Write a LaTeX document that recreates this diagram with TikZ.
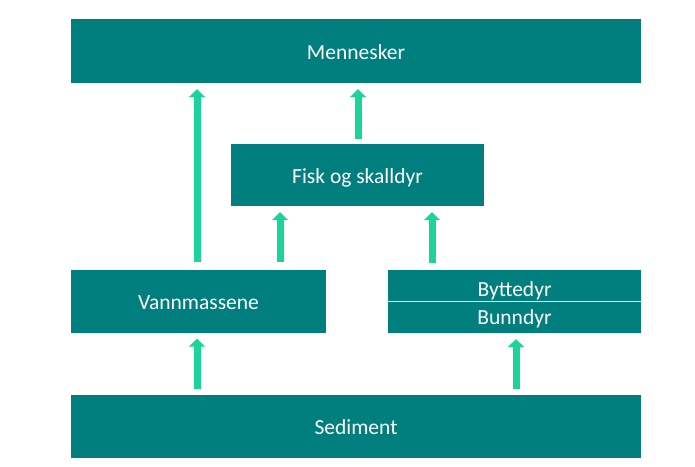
\documentclass[tikz,border=0pt]{standalone}
\usepackage{fontspec}
\setmainfont{Carlito}
\usetikzlibrary{positioning}
\usetikzlibrary{arrows.meta}
\definecolor{pTeal}{HTML}{007F7E}
\definecolor{pMint}{HTML}{1BD49C}

\tikzset{
  level/.style={fill=pTeal, text=white, inner sep=0pt, minimum height=63pt,
    text height=16.5pt, text depth=0pt, font=\fontsize{21.5}{24}\selectfont},
  flow/.style={draw=pMint, line width=7pt, -{Triangle[width=16pt,length=8pt]}}
}

\begin{document}
\begin{tikzpicture}[x=1pt, y=-1pt]
    \useasboundingbox (0,0) rectangle (695,466);

    \node[level, minimum width=570pt, minimum height=64pt] (menn) at (356,51) {Mennesker};
    \node[level, minimum width=253pt, minimum height=62pt] (fisk) at (357.5,175) {Fisk og skalldyr};
    \node[level, minimum width=255pt] (vann) at (198.5,301) {Vannmassene};
    \node[level, minimum width=253pt, minimum height=30.5pt] (bytte) at (514.5,285.25) {\raisebox{-2.5pt}{Byttedyr}};
    \node[level, minimum width=253pt, minimum height=30.5pt, below=1.5pt of bytte] (bunn) {\raisebox{1.75pt}{Bunndyr}};
    \node[level, minimum width=570pt] (sed) at (356,426.5) {Sediment};

    \draw[flow] ([xshift=-1.5pt,yshift=7pt]vann.north) -- ([xshift=-159pt,yshift=-6pt]menn.south);
    \draw[flow] ([xshift=0.5pt,yshift=5pt]fisk.north) -- ([xshift=2pt,yshift=-6pt]menn.south);
    \draw[flow] ([xshift=81.5pt,yshift=7pt]vann.north) -- ([xshift=-77.5pt,yshift=-6pt]fisk.south);
    \draw[flow] ([xshift=-82.5pt,yshift=7pt]bytte.north) -- ([xshift=74.5pt,yshift=-6pt]fisk.south);
    \draw[flow] ([xshift=-159pt,yshift=6pt]sed.north) -- ([xshift=-1.5pt,yshift=-6pt]vann.south);
    \draw[flow] ([xshift=160pt,yshift=6pt]sed.north) -- ([xshift=1.5pt,yshift=-6pt]bunn.south);

\end{tikzpicture}
\end{document}
